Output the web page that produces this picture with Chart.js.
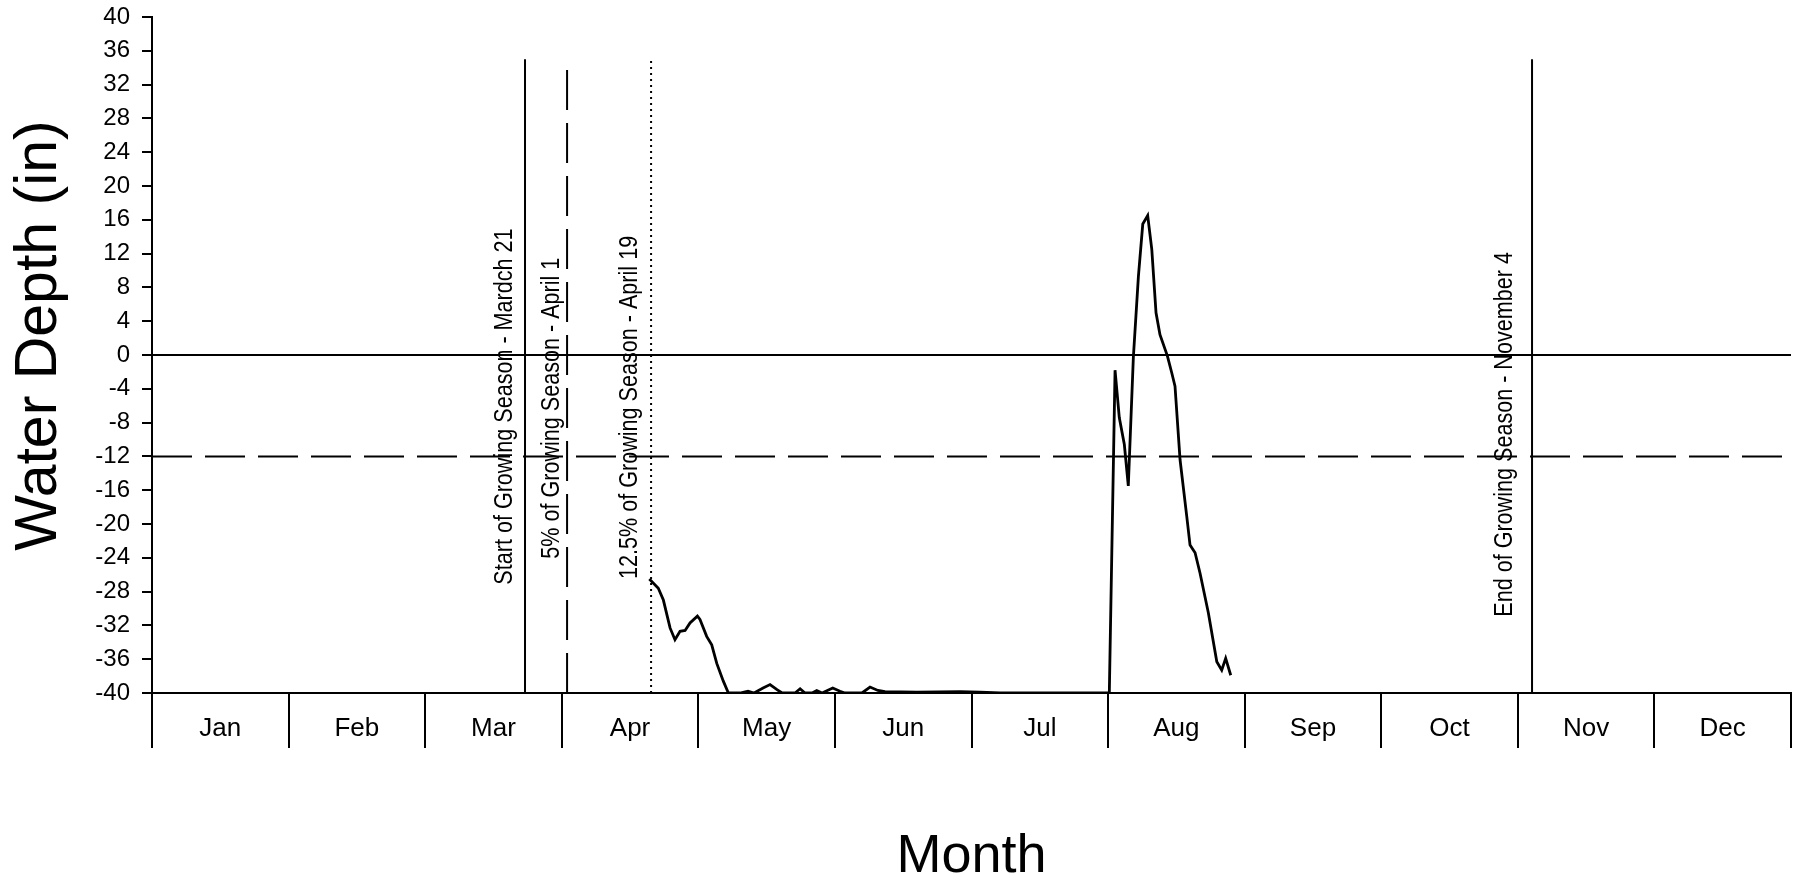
<!DOCTYPE html>
<html>
<head>
<meta charset="utf-8">
<script src="https://cdn.jsdelivr.net/npm/chart.js@4.4.0/dist/chart.umd.min.js"></script>
<style>
  html, body { margin: 0; padding: 0; background: #fff; }
  #contenedor { width: 1802px; height: 884px; }
</style>
</head>
<body>
<div id="contenedor"><canvas id="grafico" width="1802" height="884"></canvas></div>
<script>
// x is in months (0 = Jan 1, 12 = end of Dec), y in inches
const meses = ['Jan', 'Feb', 'Mar', 'Apr', 'May', 'Jun', 'Jul', 'Aug', 'Sep', 'Oct', 'Nov', 'Dec'];

const profundidadX = [3.641, 3.707, 3.744, 3.793, 3.829, 3.866, 3.903, 3.939, 3.993, 4.012, 4.061, 4.098, 4.135, 4.183, 4.220,
  4.305, 4.364, 4.408, 4.474, 4.525, 4.576, 4.613, 4.708, 4.745, 4.781, 4.833, 4.867, 4.906, 4.984, 5.037, 5.074,
  5.198, 5.257, 5.315, 5.367, 5.600, 5.916, 6.062, 6.209, 6.600, 7.009,
  7.051, 7.082, 7.119, 7.148, 7.185, 7.222, 7.254, 7.290, 7.320, 7.351, 7.380, 7.434, 7.466, 7.490, 7.527, 7.576,
  7.600, 7.637, 7.673, 7.734, 7.796, 7.832, 7.861, 7.898];
const profundidadY = [-26.5, -27.6, -29.0, -32.3, -33.7, -32.7, -32.6, -31.7, -30.9, -31.3, -33.3, -34.3, -36.5, -38.6, -40,
  -40, -39.8, -40, -39.4, -39.0, -39.6, -40, -40, -39.5, -40, -40, -39.7, -40, -39.4, -39.8, -40,
  -40, -39.3, -39.7, -39.85, -39.9, -39.85, -39.9, -40, -40, -40,
  -1.8, -7.4, -10.6, -15.5, -0.3, 9.3, 15.5, 16.5, 12.5, 5.0, 2.4, -0.1, -2.1, -3.7, -12.4, -19.1,
  -22.5, -23.4, -25.8, -30.5, -36.3, -37.3, -35.9, -37.9];

const nombresLineas = ['Start of Growing Season - Mardch 21', '5% of Growing Season - April 1',
  '12.5% of Growing Season - April 19', 'End of Growing Season - November 4'];
const lineasX = [2.731, 3.039, 3.654, 10.104];
const lineaInferior = -40;
const lineaSuperior = 35;

const nivelCero = 0;
const nivelDoce = -12;

const tituloY = 'Water Depth (in)';

function puntos(xs, ys) {
  return xs.map((x, i) => ({ x: x, y: ys[i] }));
}

function lineaVertical(x) {
  return [{ x: x, y: lineaInferior }, { x: x, y: lineaSuperior }];
}

const trazos = ['solido', 'guiones', 'puntos', 'solido'];
const dashPorTrazo = { solido: [], guiones: [40, 13], puntos: [2, 4] };

const datasets = [
  {
    data: [{ x: 0, y: nivelCero }, { x: 12, y: nivelCero }],
    borderColor: '#000', borderWidth: 2, pointRadius: 0
  },
  {
    data: [{ x: 0, y: nivelDoce }, { x: 12, y: nivelDoce }],
    borderColor: '#000', borderWidth: 2, pointRadius: 0, borderDash: [40, 13]
  }
];
lineasX.forEach((x, i) => {
  datasets.push({
    data: lineaVertical(x),
    borderColor: '#000', borderWidth: 2, pointRadius: 0,
    borderDash: dashPorTrazo[trazos[i]]
  });
});
datasets.push({
  data: puntos(profundidadX, profundidadY),
  borderColor: '#000', borderWidth: 2.8, pointRadius: 0, tension: 0
});

const fuente = 'Liberation Sans, Arial, sans-serif';

// rotated labels beside the season lines + the y axis title
const etiquetas = {
  id: 'etiquetas',
  afterDatasetsDraw(chart) {
    const ctx = chart.ctx;
    const xs = chart.scales.x, ys = chart.scales.y;
    const despX = [-20, -15, -21, -27];
    const centroY = [-6.1, -6.3, -6.2, -9.4];
    ctx.save();
    ctx.fillStyle = '#000';
    ctx.textAlign = 'center';
    ctx.textBaseline = 'middle';
    ctx.font = '26px ' + fuente;
    nombresLineas.forEach((t, i) => {
      const px = xs.getPixelForValue(lineasX[i]) + despX[i];
      const py = ys.getPixelForValue(centroY[i]);
      ctx.setTransform(1, 0, 0, 1, px, py);
      ctx.rotate(-Math.PI / 2);
      ctx.scale(0.83, 1); // the original uses a narrow face
      ctx.fillText(t, 0, 0);
    });
    ctx.font = '59px ' + fuente;
    ctx.setTransform(1, 0, 0, 1, 40, ys.getPixelForValue(2.3));
    ctx.rotate(-Math.PI / 2);
    ctx.fillText(tituloY, 0, 0);
    ctx.restore();
  }
};

new Chart(document.getElementById('grafico'), {
  type: 'line',
  data: { datasets: datasets },
  plugins: [etiquetas],
  options: {
    responsive: false,
    animation: false,
    devicePixelRatio: 1,
    layout: { padding: { top: 17, right: 11, bottom: 0, left: 0 } },
    plugins: { legend: { display: false }, tooltip: { enabled: false } },
    scales: {
      x: {
        type: 'linear',
        min: 0,
        max: 12,
        afterBuildTicks(scale) {
          const t = [];
          for (let i = 0; i <= 12; i++) {
            t.push({ value: i });
            if (i < 12) t.push({ value: i + 0.5 });
          }
          scale.ticks = t;
        },
        afterFit(scale) { scale.height = 191; },
        border: { color: '#000', width: 2 },
        grid: {
          drawOnChartArea: false,
          tickLength: 55,
          lineWidth: 2,
          color: (c) => (c.tick && Number.isInteger(c.tick.value)) ? '#000' : 'rgba(0,0,0,0)'
        },
        ticks: {
          autoSkip: false,
          maxRotation: 0,
          padding: -35,
          color: '#000',
          font: { family: fuente, size: 26 },
          callback: (v) => Number.isInteger(v) ? '' : meses[Math.floor(v)]
        },
        title: {
          display: true,
          text: 'Month',
          color: '#000',
          padding: { top: 0, bottom: 0 },
          font: { family: fuente, size: 54, lineHeight: 1 }
        }
      },
      y: {
        min: -40,
        max: 40,
        afterFit(scale) {
          scale.width = 152;
          scale.paddingTop = 0;
          scale.paddingBottom = 0;
        },
        border: { color: '#000', width: 2 },
        grid: { drawOnChartArea: false, tickLength: 10, lineWidth: 2, color: '#000' },
        ticks: {
          stepSize: 4,
          padding: 12,
          color: '#000',
          font: { family: fuente, size: 24 }
        }
      }
    }
  }
});
</script>
</body>
</html>
